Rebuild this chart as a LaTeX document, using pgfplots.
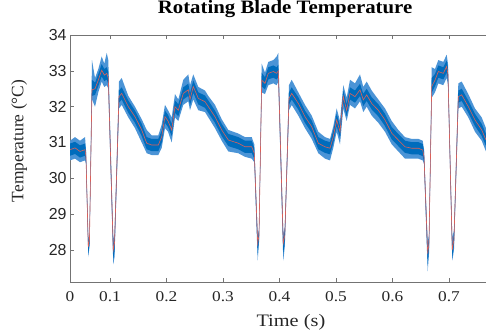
\documentclass[border=0pt]{standalone}
\usepackage{pgfplots}
\pgfplotsset{compat=1.18}
\usepackage{pgfplotstable}
\usepgfplotslibrary{fillbetween}
\usepackage{fontspec}
\setmainfont{Liberation Serif}
\newfontfamily\arialf{Liberation Sans}
\newfontfamily\serifx[FakeStretch=1.16]{Liberation Serif}
\newfontfamily\serift[FakeStretch=1.1]{Liberation Serif}
\definecolor{mblue}{RGB}{0,108,188}
\definecolor{lblue}{RGB}{75,148,214}
\definecolor{mred}{RGB}{222,96,88}
\definecolor{axgray}{RGB}{115,115,115}
\definecolor{labgray}{RGB}{38,38,38}

\pgfplotstableread{
x t hi lo ih il
0.0292 30.80 31.05 30.50 30.97 30.63
0.0381 30.85 31.15 30.55 31.02 30.68
0.0469 30.75 31.05 30.45 30.92 30.58
0.0558 30.80 31.15 30.50 30.97 30.63
0.0575 30.60 30.80 30.40 30.75 30.45
0.0616 28.09 28.30 27.80 28.22 27.90
0.0637 28.30 28.50 28.10 28.42 28.15
0.0681 32.47 33.30 32.20 32.75 32.30
0.0735 32.50 32.80 32.00 32.67 32.33
0.0793 32.74 33.05 32.40 32.91 32.57
0.0853 33.02 33.40 32.70 33.19 32.85
0.0899 32.88 33.20 32.55 33.05 32.71
0.0942 32.93 33.50 32.60 33.10 32.76
0.0970 32.80 33.30 32.50 32.97 32.63
0.1058 28.00 28.30 27.60 28.15 27.75
0.1080 28.20 28.45 27.80 28.35 27.95
0.1159 32.28 32.70 31.95 32.45 32.11
0.1207 32.37 32.80 32.05 32.54 32.20
0.1324 32.00 32.30 31.70 32.17 31.83
0.1442 31.72 32.00 31.40 31.89 31.55
0.1561 31.35 31.65 31.00 31.52 31.18
0.1650 30.98 31.35 30.70 31.15 30.81
0.1738 30.93 31.20 30.65 31.10 30.76
0.1855 30.93 31.20 30.65 31.10 30.76
0.1915 31.16 31.50 30.85 31.33 30.99
0.1973 31.72 32.05 31.40 31.89 31.55
0.2027 31.60 31.90 31.30 31.77 31.43
0.2092 31.35 31.70 31.00 31.52 31.18
0.2150 32.00 32.35 31.70 32.17 31.83
0.2209 31.90 32.20 31.60 32.07 31.73
0.2297 32.37 32.75 32.05 32.54 32.20
0.2386 32.47 32.90 32.15 32.64 32.30
0.2416 32.20 32.60 31.90 32.37 32.03
0.2474 32.56 32.90 32.20 32.73 32.39
0.2563 32.23 32.55 31.90 32.40 32.06
0.2681 32.14 32.45 31.85 32.31 31.97
0.2740 32.00 32.30 31.70 32.17 31.83
0.2858 31.72 32.05 31.40 31.89 31.55
0.2977 31.35 31.65 31.05 31.52 31.18
0.3094 31.07 31.35 30.75 31.24 30.90
0.3271 30.98 31.25 30.70 31.15 30.81
0.3389 30.88 31.15 30.60 31.05 30.71
0.3508 30.88 31.15 30.55 31.05 30.71
0.3554 30.70 30.95 30.45 30.85 30.55
0.3614 28.19 28.40 27.70 28.30 27.90
0.3637 28.40 28.60 28.20 28.52 28.28
0.3685 32.74 33.20 32.40 32.95 32.57
0.3743 32.65 32.95 32.35 32.82 32.48
0.3802 32.93 33.25 32.60 33.10 32.76
0.3890 32.98 33.30 32.65 33.15 32.81
0.3950 32.93 33.40 32.60 33.10 32.76
0.3979 33.00 33.50 32.70 33.17 32.83
0.4067 28.19 28.45 27.70 28.32 27.90
0.4094 28.40 28.65 28.10 28.55 28.25
0.4168 32.23 32.60 31.90 32.40 32.06
0.4216 32.37 32.75 32.05 32.54 32.20
0.4333 32.09 32.40 31.75 32.26 31.92
0.4451 31.72 32.05 31.40 31.89 31.55
0.4570 31.44 31.75 31.10 31.61 31.27
0.4687 30.98 31.30 30.70 31.15 30.81
0.4805 30.88 31.15 30.55 31.05 30.71
0.4894 30.84 31.10 30.50 31.01 30.67
0.4952 31.16 31.45 30.85 31.33 30.99
0.5012 31.63 31.95 31.30 31.80 31.46
0.5071 31.30 31.60 30.95 31.47 31.13
0.5129 32.28 32.60 31.95 32.45 32.11
0.5189 31.90 32.25 31.60 32.07 31.73
0.5248 32.37 32.75 32.05 32.54 32.20
0.5336 32.28 32.65 31.95 32.45 32.11
0.5425 32.47 32.90 32.15 32.64 32.30
0.5483 32.19 32.55 31.85 32.36 32.02
0.5543 32.33 32.70 32.00 32.50 32.16
0.5632 32.09 32.45 31.75 32.26 31.92
0.5749 31.90 32.20 31.55 32.07 31.73
0.5867 31.63 31.95 31.30 31.80 31.46
0.5986 31.26 31.60 30.95 31.43 31.09
0.6103 31.07 31.35 30.75 31.24 30.90
0.6221 30.88 31.15 30.55 31.05 30.71
0.6340 30.84 31.10 30.55 31.01 30.67
0.6457 30.84 31.10 30.55 31.01 30.67
0.6535 30.79 31.05 30.50 30.96 30.62
0.6558 30.60 30.80 30.40 30.75 30.45
0.6623 27.90 28.20 27.40 28.05 27.60
0.6646 28.20 28.45 27.90 28.35 28.05
0.6694 32.56 33.10 32.25 32.80 32.39
0.6752 32.74 33.05 32.40 32.91 32.57
0.6811 32.98 33.30 32.65 33.15 32.81
0.6899 32.93 33.25 32.60 33.10 32.76
0.6959 33.12 33.45 32.80 33.29 32.95
0.6982 32.90 33.20 32.60 33.07 32.73
0.7058 28.00 28.35 27.70 28.15 27.80
0.7088 28.30 28.55 28.00 28.45 28.15
0.7165 32.28 32.65 31.95 32.45 32.11
0.7225 32.33 32.70 32.00 32.50 32.16
0.7342 32.00 32.35 31.70 32.17 31.83
0.7460 31.63 31.95 31.30 31.80 31.46
0.7579 31.35 31.70 31.05 31.52 31.18
0.7655 31.07 31.40 30.75 31.24 30.90
}\datatab

\begin{document}
\begin{tikzpicture}
\begin{axis}[
  at={(70bp,52bp)}, anchor=south west,
  scale only axis, width=416bp, height=247bp,
  xmin=0.0292, xmax=0.7655, ymin=27.107, ymax=34,
  enlargelimits=false,
  axis x line=box, axis y line=left,
  axis line style={-, draw=axgray, line width=0.7pt},
  tick style={draw=axgray, line width=0.6pt},
  tick align=inside, major tick length=4bp,
  xtick={0.0292,0.1,0.2,0.3,0.4,0.5,0.6,0.7},
  xticklabels={0,0.1,0.2,0.3,0.4,0.5,0.6,0.7},
  ytick={28,29,30,31,32,33,34},
  /pgf/number format/assume math mode=true,
  xticklabel style={font=\serifx\fontsize{15}{16}\selectfont, text=labgray, yshift=-6bp},
  yticklabel style={font=\arialf\fontsize{16}{17}\selectfont, text=labgray},
  xlabel={Time (s)},
  xlabel style={at={(axis description cs:0.531,-0.182)}, anchor=base, font=\serifx\fontsize{17.6}{18}\selectfont, text=labgray},
  ylabel={\fontsize{17.5}{18}\selectfont Temperature (\textdegree C)},
  ylabel style={at={(axis description cs:-0.112,0.571)}, anchor=base, text=labgray},
  title={Rotating Blade Temperature},
  title style={at={(axis description cs:0.517,1.061)}, anchor=base, font=\serift\bfseries\fontsize{19}{20}\selectfont, text=black},
  clip=true,
]
\addplot[name path=up, draw=none, forget plot] table[x=x,y=hi]{\datatab};
\addplot[name path=dn, draw=none, forget plot] table[x=x,y=lo]{\datatab};
\addplot[lblue, forget plot] fill between[of=up and dn];
\addplot[name path=iup, draw=none, forget plot] table[x=x,y=ih]{\datatab};
\addplot[name path=idn, draw=none, forget plot] table[x=x,y=il]{\datatab};
\addplot[mblue, forget plot] fill between[of=iup and idn];
\addplot[mred, line width=0.6pt] table[x=x,y=t]{\datatab};
\end{axis}
\pgfresetboundingbox
\useasboundingbox (0,0) rectangle (486bp,334bp);
\end{tikzpicture}
\end{document}
